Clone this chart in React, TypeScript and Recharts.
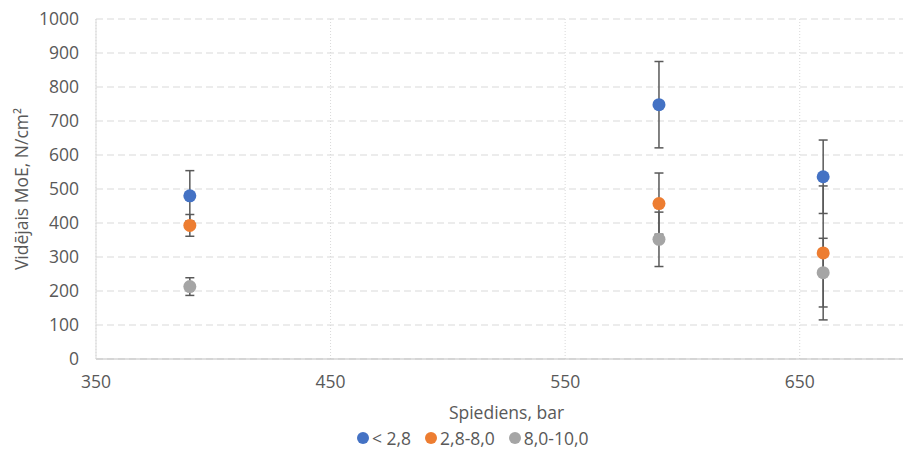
import { ScatterChart, Scatter, XAxis, YAxis, CartesianGrid, ErrorBar, Legend } from "recharts";

const pressures = [390, 590, 660];
const seriesNames = ["< 2,8", "2,8-8,0", "8,0-10,0"];
const seriesColors = ["#4472C4", "#ED7D31", "#A5A5A5"];
const moeSmall = [480, 748, 536];
const errSmall = [74, 127, 108];
const moeMedium = [393, 457, 312];
const errMedium = [32, 90, 197];
const moeLarge = [213, 352, 254];
const errLarge = [26, 80, 101];
const xTicks = [350, 450, 550, 650];
const yTicks = [0, 100, 200, 300, 400, 500, 600, 700, 800, 900, 1000];

const FONT = "'Open Sans', sans-serif";
const TEXT = "#595959";
const FS = 17.5;

const toPoints = (vals: number[], errs: number[]) =>
  pressures.map((p, i) => ({ x: p, y: vals[i], err: errs[i] }));

const series = [
  { name: seriesNames[0], color: seriesColors[0], data: toPoints(moeSmall, errSmall) },
  { name: seriesNames[1], color: seriesColors[1], data: toPoints(moeMedium, errMedium) },
  { name: seriesNames[2], color: seriesColors[2], data: toPoints(moeLarge, errLarge) },
];

const dot = (color: string) => (props: any) =>
  <circle cx={props.cx} cy={props.cy} r={6.5} fill={color} />;

function LegendBox() {
  return (
    <div
      style={{
        display: "flex",
        alignItems: "center",
        height: 30,
        paddingLeft: 349,
        fontFamily: FONT,
        fontSize: FS,
        color: TEXT,
      }}
    >
      {series.map((s) => (
        <span key={s.name} style={{ display: "flex", alignItems: "center", marginRight: 14 }}>
          <span
            style={{
              display: "inline-block",
              width: 12,
              height: 12,
              borderRadius: 6,
              background: s.color,
              marginRight: 3,
            }}
          />
          {s.name}
        </span>
      ))}
    </div>
  );
}

export default function App() {
  // negative top margin cancels the body margin so the chart starts at the page top
  return (
    <div style={{ width: 903, overflow: "hidden", marginTop: -8 }}>
      <ScatterChart width={909} height={453} margin={{ top: 19, right: 0, left: 0, bottom: 0 }}>
        <CartesianGrid vertical={false} stroke="#D9D9D9" strokeDasharray="7 4" />
        <CartesianGrid horizontal={false} stroke="#D9D9D9" strokeDasharray="1 2" />
        <XAxis
          type="number"
          dataKey="x"
          domain={[350, 700]}
          ticks={xTicks}
          allowDataOverflow
          height={64}
          tickSize={0}
          tickMargin={17}
          tickLine={false}
          axisLine={{ stroke: "#BFBFBF" }}
          tick={{ fill: TEXT, fontSize: FS, fontFamily: FONT }}
          label={(p: any) => (
            <text
              x={p.viewBox.x + p.viewBox.width / 2}
              y={p.viewBox.y + 53}
              textAnchor="middle"
              dominantBaseline="central"
              fill={TEXT}
              fontSize={FS}
              fontFamily={FONT}
            >
              Spiediens, bar
            </text>
          )}
        />
        <YAxis
          type="number"
          dataKey="y"
          domain={[0, 1000]}
          ticks={yTicks}
          width={88}
          tickSize={0}
          tickMargin={17}
          tickLine={false}
          axisLine={{ stroke: "#D9D9D9" }}
          tick={{ fill: TEXT, fontSize: FS, fontFamily: FONT }}
          label={(p: any) => (
            <text
              x={13}
              y={p.viewBox.y + p.viewBox.height / 2}
              transform={`rotate(-90, 13, ${p.viewBox.y + p.viewBox.height / 2})`}
              textAnchor="middle"
              dominantBaseline="central"
              fill={TEXT}
              fontSize={FS}
              fontFamily={FONT}
            >
              Vidējais MoE, N/cm²
            </text>
          )}
        />
        <Legend verticalAlign="bottom" align="left" height={30} content={() => <LegendBox />} />
        {series.map((s) => (
          <Scatter
            key={s.name}
            name={s.name}
            data={s.data}
            fill={s.color}
            shape={dot(s.color)}
            isAnimationActive={false}
          >
            <ErrorBar dataKey="err" direction="y" width={4.5} stroke="#595959" strokeWidth={1.5} />
          </Scatter>
        ))}
      </ScatterChart>
    </div>
  );
}
